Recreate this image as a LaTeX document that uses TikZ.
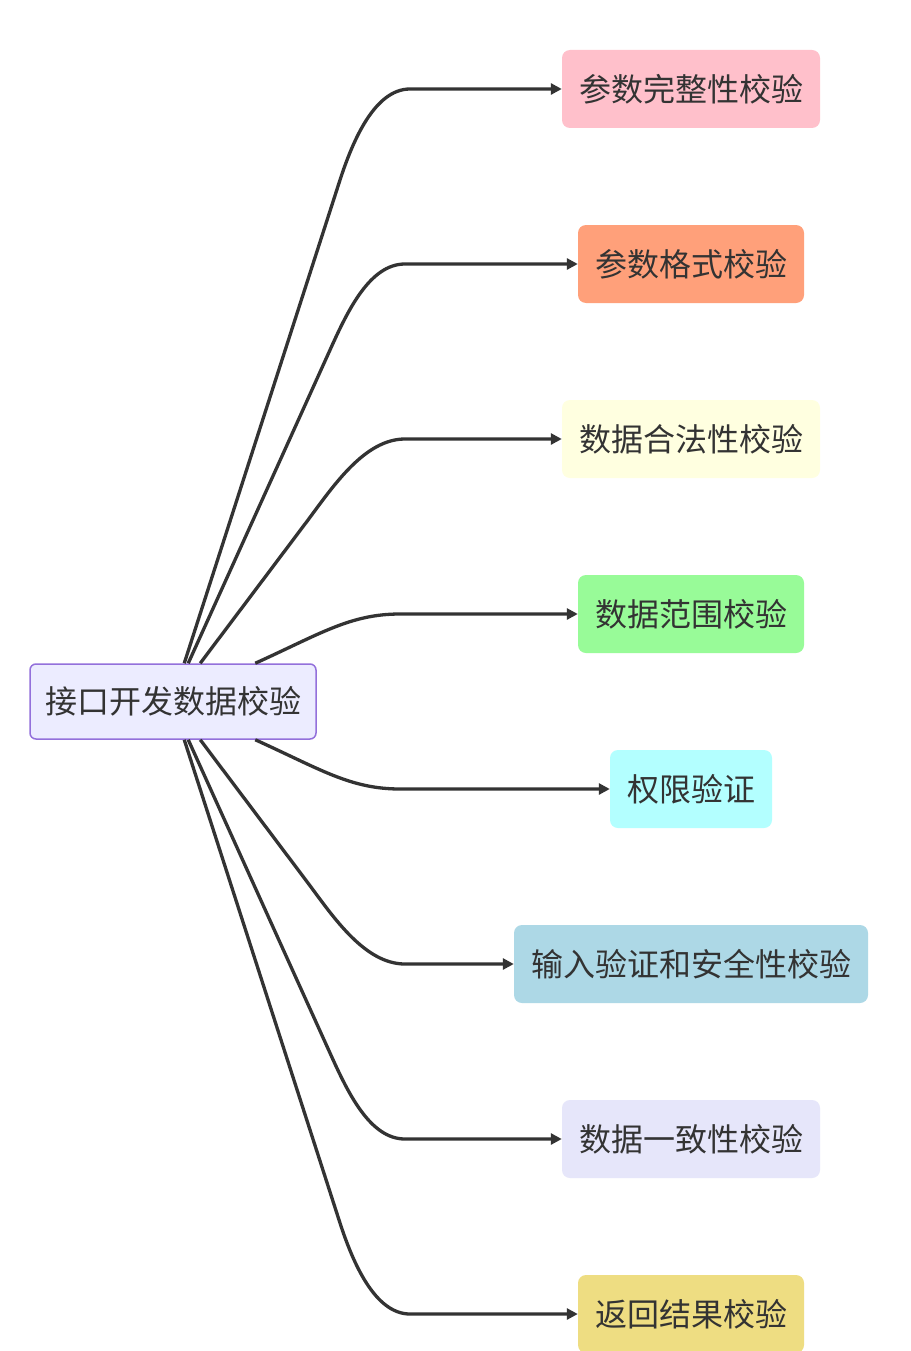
\documentclass[tikz,border=0pt]{standalone}
\usepackage{fontspec}
\setmainfont{Noto Sans CJK SC}
\usetikzlibrary{arrows.meta}
\definecolor{txt}{HTML}{333333}
\definecolor{rootfill}{HTML}{ECECFF}
\definecolor{rootline}{HTML}{9370DB}
\definecolor{cA}{HTML}{FFC0CB}
\definecolor{cB}{HTML}{FFA07A}
\definecolor{cC}{HTML}{FFFFE0}
\definecolor{cD}{HTML}{98FB98}
\definecolor{cE}{HTML}{B3FFFF}
\definecolor{cF}{HTML}{ADD8E6}
\definecolor{cG}{HTML}{E6E6FA}
\definecolor{cH}{HTML}{EEDD82}
\tikzset{
  leaf/.style={rounded corners=8pt, minimum height=78pt, inner sep=0pt, text=txt, font=\fontsize{32}{36}\selectfont},
  rootbox/.style={rounded corners=6pt, draw=rootline, line width=1.5pt, fill=rootfill, minimum width=286pt, minimum height=75pt, inner sep=0pt, text=txt, font=\fontsize{32}{36}\selectfont},
  edge/.style={draw=txt, line width=3.3pt, -{Triangle[length=11pt,width=11pt]}}
}
\begin{document}
\begin{tikzpicture}[x=1pt,y=-1pt]
\useasboundingbox (0,0) rectangle (910,1351);
\fill[white] (0,0) rectangle (910,1351);
\node[rootbox] (root) at (173,701.5) {接口开发数据校验};
\node[leaf, fill=cA, minimum width=258pt] (n1) at (691,89) {参数完整性校验};
\node[leaf, fill=cB, minimum width=226pt] (n2) at (691,264) {参数格式校验};
\node[leaf, fill=cC, minimum width=258pt] (n3) at (691,439) {数据合法性校验};
\node[leaf, fill=cD, minimum width=226pt] (n4) at (691,614) {数据范围校验};
\node[leaf, fill=cE, minimum width=162pt] (n5) at (691,789) {权限验证};
\node[leaf, fill=cF, minimum width=354pt] (n6) at (691,964) {输入验证和安全性校验};
\node[leaf, fill=cG, minimum width=258pt] (n7) at (691,1139) {数据一致性校验};
\node[leaf, fill=cH, minimum width=226pt] (n8) at (691,1314) {返回结果校验};
% upper edges
\draw[edge] ([xshift=155pt]root.north west) -- (340,180) .. controls (353,140) and (375,89) .. (410,89) -- (n1.west);
\draw[edge] ([xshift=159pt]root.north west) -- (330,350) .. controls (348,310) and (370,264) .. (405,264) -- (n2.west);
\draw[edge] ([xshift=171pt]root.north west) -- (308,520) .. controls (334,485) and (365,439) .. (405,439) -- (n3.west);
\draw[edge] ([xshift=226pt]root.north west) .. controls (320,634) and (350,614) .. (400,614) -- (n4.west);
% lower edges
\draw[edge] ([xshift=226pt]root.south west) .. controls (320,769) and (350,789) .. (400,789) -- (n5.west);
\draw[edge] ([xshift=171pt]root.south west) -- (308,883) .. controls (334,918) and (365,964) .. (405,964) -- (n6.west);
\draw[edge] ([xshift=159pt]root.south west) -- (330,1053) .. controls (348,1093) and (370,1139) .. (405,1139) -- (n7.west);
\draw[edge] ([xshift=155pt]root.south west) -- (340,1223) .. controls (353,1263) and (375,1314) .. (410,1314) -- (n8.west);
\end{tikzpicture}
\end{document}
